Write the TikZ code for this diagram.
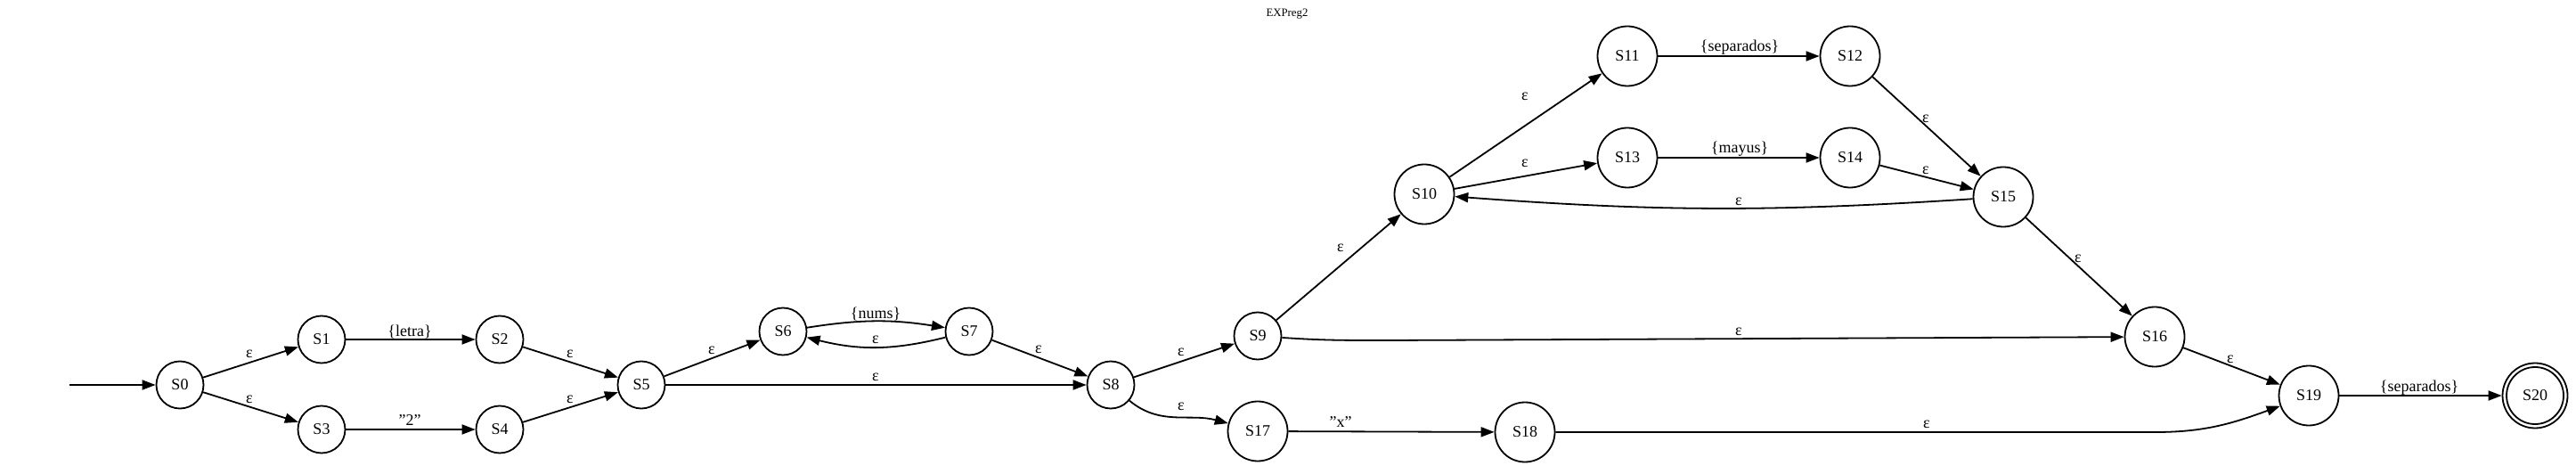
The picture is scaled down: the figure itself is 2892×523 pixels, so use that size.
\documentclass[tikz,border=0pt]{standalone}
\usepackage{fontspec}
\setmainfont{Liberation Serif}
\usetikzlibrary{arrows.meta}
\begin{document}
\begin{tikzpicture}[x=0.5pt,y=0.5pt,
  st/.style={circle, draw, line width=0.9pt, inner sep=0pt, minimum size=26.5pt, font=\fontsize{9}{10}\selectfont},
  stb/.style={st, minimum size=33.5pt},
  edge/.style={line width=0.9pt, -{Triangle[length=7.5pt,width=5.5pt]}},
  lbl/.style={inner sep=0pt, font=\fontsize{9}{10}\selectfont},
  ttl/.style={inner sep=0pt, font=\fontsize{6.4}{7}\selectfont}]
\useasboundingbox (0,0) rectangle (2892,-523);
\node[ttl] (title) at (1445,-16) {EXPreg2};
% states
\coordinate (start) at (78,-432);
\node[st] (S0) at (202,-432) {S0};
\node[st] (S1) at (361,-381) {S1};
\node[st] (S2) at (561,-381) {S2};
\node[st] (S3) at (361,-482) {S3};
\node[st] (S4) at (561,-482) {S4};
\node[st] (S5) at (720,-432) {S5};
\node[st] (S6) at (879,-372) {S6};
\node[st] (S7) at (1088,-372) {S7};
\node[st] (S8) at (1247,-432) {S8};
\node[st] (S9) at (1412,-377) {S9};
\node[stb] (S17) at (1412,-484) {S17};
\node[stb] (S18) at (1712,-485) {S18};
\node[stb] (S10) at (1599,-218) {S10};
\node[stb] (S11) at (1827,-63) {S11};
\node[stb] (S12) at (2077,-63) {S12};
\node[stb] (S13) at (1827,-177) {S13};
\node[stb] (S14) at (2077,-177) {S14};
\node[stb] (S15) at (2249,-221) {S15};
\node[stb] (S16) at (2419,-378) {S16};
\node[stb] (S19) at (2592,-444) {S19};
\node[stb, minimum size=36.5pt] (S20) at (2846,-444) {S20};
\draw[line width=0.9pt] (S20.center) circle (16pt);
\coordinate (c1) at (2420,-485);
\coordinate (c2) at (1560,-382);
% edges
\draw[edge] (start) -- (S0);
\draw[edge] (S0) -- (S1);
\draw[edge] (S0) -- (S3);
\draw[edge] (S1) -- (S2);
\draw[edge] (S3) -- (S4);
\draw[edge] (S2) -- (S5);
\draw[edge] (S4) -- (S5);
\draw[edge] (S5) -- (S6);
\draw[edge] (S5) -- (S8);
\draw[edge] (S6) to[bend left=9] (S7);
\draw[edge] (S7) to[bend left=14] (S6);
\draw[edge] (S7) -- (S8);
\draw[edge] (S8) -- (S9);
\draw[edge] (S8) to[out=-40, in=165] (S17);
\draw[edge] (S17) -- (S18);
\draw[edge] (S9) -- (S10);
\draw[edge] (S9) to[out=-4, in=180] (c2) -- (S16);
\draw[edge] (S10) -- (S11);
\draw[edge] (S10) -- (S13);
\draw[edge] (S11) -- (S12);
\draw[edge] (S13) -- (S14);
\draw[edge] (S12) -- (S15);
\draw[edge] (S14) -- (S15);
\draw[edge] (S15) to[bend left=4] (S10);
\draw[edge] (S15) -- (S16);
\draw[edge] (S16) -- (S19);
\draw[edge] (S18) -- (c1) to[out=0, in=200] (S19);
\draw[edge] (S19) -- (S20);
% labels
\node[lbl] (l01) at (280,-397) {ε};
\node[lbl] (l03) at (280,-448) {ε};
\node[lbl] (l12) at (460,-372) {\{letra\}};
\node[lbl] (l34) at (460,-472) {"2"};
\node[lbl] (l25) at (640,-397) {ε};
\node[lbl] (l45) at (640,-448) {ε};
\node[lbl] (l56) at (799,-393) {ε};
\node[lbl] (l67) at (983,-352) {\{nums\}};
\node[lbl] (l76) at (983,-381) {ε};
\node[lbl] (l78) at (1166,-392) {ε};
\node[lbl] (l58) at (983,-423) {ε};
\node[lbl] (l89) at (1326,-395) {ε};
\node[lbl] (l817) at (1326,-456) {ε};
\node[lbl] (l1718) at (1505,-474) {"x"};
\node[lbl] (l910) at (1505,-278) {ε};
\node[lbl] (l916) at (1952,-372) {ε};
\node[lbl] (l1011) at (1712,-108) {ε};
\node[lbl] (l1013) at (1712,-183) {ε};
\node[lbl] (l1112) at (1953,-53) {\{separados\}};
\node[lbl] (l1314) at (1953,-167) {\{mayus\}};
\node[lbl] (l1215) at (2162,-133) {ε};
\node[lbl] (l1415) at (2162,-191) {ε};
\node[lbl] (l1510) at (1952,-226) {ε};
\node[lbl] (l1516) at (2333,-290) {ε};
\node[lbl] (l1619) at (2504,-403) {ε};
\node[lbl] (l1819) at (2163,-476) {ε};
\node[lbl] (l1920) at (2716,-435) {\{separados\}};
\end{tikzpicture}
\end{document}
